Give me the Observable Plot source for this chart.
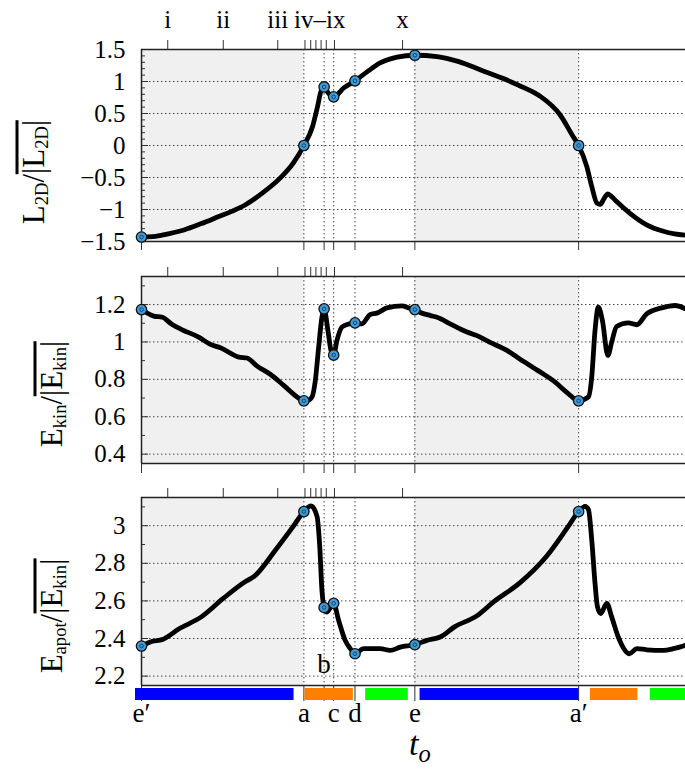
<!DOCTYPE html>
<html><head><meta charset="utf-8">
<script src="https://cdn.jsdelivr.net/npm/d3@7"></script>
<script src="https://cdn.jsdelivr.net/npm/@observablehq/plot@0.6"></script>
<style>
body{margin:0;background:#fff;}
#root{position:relative;width:685px;height:769px;overflow:hidden;font-family:"Liberation Serif","Times New Roman",Times,"DejaVu Serif",serif;background:#fff;}
.panel{position:absolute;left:0;}
.ylab{position:absolute;transform:translate(-50%,-50%) rotate(-90deg);font-size:31px;white-space:nowrap;line-height:1;color:#000;}
.ylab sub{font-size:60%;vertical-align:-0.25em;line-height:0;}
.ov{position:relative;}
.ov::before{content:"";position:absolute;left:0;right:0;top:0;height:2.5px;background:#000;}
.xlab{position:absolute;left:409px;top:727px;font-style:italic;font-size:34px;line-height:34px;color:#000;}
.xlab sub{font-size:72%;vertical-align:-0.3em;line-height:0;}
</style></head>
<body>
<div id="root">
  <div id="p1" class="panel" style="top:0px"></div>
  <div id="p2" class="panel" style="top:255px"></div>
  <div id="p3" class="panel" style="top:475px"></div>
  <div class="ylab" style="left:33px;top:172px">L<sub>2D</sub>/<span class="ov">|L<sub>2D</sub>|</span></div>
  <div class="ylab" style="left:51px;top:394px">E<sub>kin</sub>/<span class="ov">|E<sub>kin</sub>|</span></div>
  <div class="ylab" style="left:51px;top:616px">E<sub>apot</sub>/<span class="ov">|E<sub>kin</sub>|</span></div>
  <div class="xlab">t<sub>o</sub></div>
</div>
<script>
// ---------- data ----------
const eventT = [0, 0.594, 0.668, 0.703, 0.781, 1.0, 1.599];
const eventNames = ["e′", "a", "b", "c", "d", "e", "a′"];
const romanTickT = [0.096, 0.299, 0.4985, 0.598, 0.619, 0.638, 0.657, 0.676, 0.706, 0.955];
const romanLabelT = [0.096, 0.299, 0.4985, 0.652, 0.955];
const romanLabels = ["i", "ii", "iii", "iv–ix", "x"];
const greyStart = [0, 1.0];
const greyEnd = [0.594, 1.599];
const phaseStart = [-0.022, 0.598, 0.82, 1.019, 1.642, 1.861];
const phaseEnd = [0.558, 0.775, 0.976, 1.600, 1.816, 2.0];
const phaseName = ["blue", "orange", "green", "blue", "orange", "green"];
const phaseColors = {blue: "#0000ff", orange: "#ff8000", green: "#00ff00"};

const tL2D = [0, 0.04, 0.075, 0.155, 0.219, 0.283, 0.33, 0.379, 0.443, 0.507, 0.555, 0.594, 0.626, 0.644, 0.656, 0.668, 0.68, 0.692, 0.703, 0.74, 0.781, 0.825, 0.873, 0.935, 1.0, 1.081, 1.161, 1.241, 1.321, 1.401, 1.458, 1.531, 1.576, 1.599, 1.629, 1.647, 1.666, 1.678, 1.692, 1.706, 1.72, 1.738, 1.787, 1.848, 1.909, 1.95, 1.99];
const vL2D = [-1.43, -1.425, -1.40, -1.32, -1.22, -1.11, -1.03, -0.93, -0.74, -0.51, -0.275, 0, 0.30, 0.61, 0.84, 0.915, 0.84, 0.78, 0.76, 0.90, 1.01, 1.15, 1.29, 1.38, 1.41, 1.39, 1.31, 1.18, 1.05, 0.90, 0.77, 0.48, 0.16, 0, -0.33, -0.64, -0.90, -0.92, -0.83, -0.755, -0.80, -0.875, -1.06, -1.24, -1.34, -1.38, -1.40];

const tEkin = [0, 0.045, 0.076, 0.112, 0.149, 0.209, 0.252, 0.289, 0.356, 0.386, 0.423, 0.471, 0.52, 0.569, 0.594, 0.612, 0.624, 0.636, 0.648, 0.66, 0.668, 0.682, 0.693, 0.703, 0.715, 0.733, 0.752, 0.781, 0.806, 0.837, 0.861, 0.898, 0.953, 0.977, 1.0, 1.018, 1.057, 1.081, 1.129, 1.193, 1.225, 1.273, 1.337, 1.377, 1.449, 1.512, 1.561, 1.599, 1.635, 1.647, 1.659, 1.671, 1.686, 1.706, 1.72, 1.738, 1.781, 1.812, 1.848, 1.903, 1.952, 1.99];
const vEkin = [1.173, 1.138, 1.132, 1.093, 1.065, 1.026, 0.987, 0.969, 0.919, 0.914, 0.871, 0.827, 0.768, 0.706, 0.685, 0.69, 0.706, 0.795, 0.972, 1.132, 1.177, 1.061, 0.955, 0.930, 1.008, 1.079, 1.093, 1.102, 1.097, 1.147, 1.154, 1.182, 1.193, 1.182, 1.173, 1.159, 1.141, 1.132, 1.097, 1.052, 1.035, 0.999, 0.955, 0.916, 0.848, 0.786, 0.724, 0.685, 0.706, 0.812, 1.061, 1.186, 1.115, 0.928, 0.999, 1.083, 1.102, 1.092, 1.15, 1.182, 1.195, 1.177];

const tEapot = [0, 0.04, 0.075, 0.139, 0.219, 0.299, 0.379, 0.411, 0.491, 0.555, 0.594, 0.62, 0.642, 0.652, 0.66, 0.668, 0.677, 0.703, 0.721, 0.745, 0.764, 0.781, 0.812, 0.873, 0.91, 0.947, 1.0, 1.044, 1.093, 1.145, 1.225, 1.289, 1.385, 1.481, 1.561, 1.599, 1.623, 1.635, 1.647, 1.659, 1.668, 1.68, 1.702, 1.72, 1.744, 1.785, 1.812, 1.848, 1.909, 1.946, 1.99];
const vEapot = [2.36, 2.385, 2.394, 2.453, 2.515, 2.613, 2.702, 2.729, 2.872, 2.996, 3.075, 3.105, 3.05, 2.89, 2.658, 2.565, 2.54, 2.587, 2.497, 2.39, 2.346, 2.319, 2.346, 2.346, 2.337, 2.354, 2.367, 2.39, 2.408, 2.462, 2.519, 2.596, 2.697, 2.836, 2.996, 3.075, 3.103, 3.086, 2.925, 2.694, 2.568, 2.533, 2.587, 2.515, 2.408, 2.319, 2.346, 2.34, 2.337, 2.346, 2.364];

const markL2D = [-1.43, 0, 0.915, 0.76, 1.01, 1.41, 0];
const markEkin = [1.173, 0.685, 1.177, 0.93, 1.102, 1.173, 0.685];
const markEapot = [2.36, 3.075, 2.565, 2.587, 2.319, 2.367, 3.075];

const majL2D = [-1.5, -1, -0.5, 0, 0.5, 1, 1.5];
const minL2D = [-1.4, -1.3, -1.2, -1.1, -0.9, -0.8, -0.7, -0.6, -0.4, -0.3, -0.2, -0.1, 0.1, 0.2, 0.3, 0.4, 0.6, 0.7, 0.8, 0.9, 1.1, 1.2, 1.3, 1.4];
const majEkin = [0.4, 0.6, 0.8, 1, 1.2];
const minEkin = [0.5, 0.7, 0.9, 1.1, 1.3];
const majEapot = [2.2, 2.4, 2.6, 2.8, 3];
const minEapot = [2.3, 2.5, 2.7, 2.9, 3.1];

// ---------- build ----------
const FONT = "'Liberation Serif', 'Times New Roman', Times, 'DejaVu Serif', serif";
const W = 685, ML = 141, MR = 0;
const frameW = W - ML - MR;
const xDomain = [0, 1.99];
const zip = (t, v) => t.map((d, i) => ({t: d, v: v[i]}));
const grey = greyStart.map((s, i) => ({x1: s, x2: greyEnd[i]}));
const phases = phaseStart.map((s, i) => ({x1: s, x2: phaseEnd[i], c: phaseColors[phaseName[i]]}));
const fmt = d => (d < 0 ? "−" : "") + Math.abs(d);
const dotted = {stroke: "#444", strokeWidth: 1, strokeDasharray: "1.5,2.5"};

function panel({series, marks: mk, domain, majors, minors, height, marginTop, marginBottom, bottomTick, extra = []}) {
  const markers = eventT.map((t, i) => ({t, v: mk[i]}));
  return Plot.plot({
    width: W, height, marginLeft: ML, marginRight: MR, marginTop, marginBottom,
    style: {fontFamily: FONT, fontSize: "25px", background: "transparent", color: "#000", overflow: "visible"},
    x: {domain: xDomain, axis: null, label: null},
    y: {domain, axis: null, label: null},
    marks: [
      Plot.rect(grey, {x1: "x1", x2: "x2", fill: "#f0f0f0"}),
      Plot.ruleY(majors, dotted),
      Plot.ruleX(eventT.slice(1), dotted),
      Plot.tickY(majors, {y: d => d, stroke: "#333", insetRight: frameW - 7}),
      Plot.tickY(minors, {y: d => d, stroke: "#333", insetRight: frameW - 4}),
      Plot.axisX({anchor: "top", ticks: romanTickT, tickSize: 10, tickFormat: () => "", stroke: "#333", label: null}),
      Plot.axisX({anchor: "bottom", ticks: eventT, tickSize: bottomTick, tickFormat: () => "", stroke: "#333", label: null}),
      Plot.axisY({anchor: "left", ticks: majors, tickSize: 0, tickPadding: 16, tickFormat: fmt, label: null, fontFamily: FONT, fontSize: 25}),
      Plot.ruleY([domain[0], domain[1]], {stroke: "#222", strokeWidth: 1.5}),
      Plot.ruleX([0], {stroke: "#222", strokeWidth: 1.5}),
      ...extra,
      Plot.line(series, {x: "t", y: "v", stroke: "#000", strokeWidth: 4.8, curve: "monotone-x", strokeLinejoin: "round"}),
      Plot.dot(markers, {x: "t", y: "v", r: 5.2, fill: "#3f9ad8", stroke: "#111", strokeWidth: 1.3}),
      Plot.dot(markers, {x: "t", y: "v", r: 1.8, fill: "none", stroke: "#173a57", strokeWidth: 0.9})
    ]
  });
}

const p1 = panel({
  series: zip(tL2D, vL2D), marks: markL2D, domain: [-1.5, 1.5], majors: majL2D, minors: minL2D,
  height: 255, marginTop: 49, marginBottom: 14, bottomTick: 9,
  extra: [
    Plot.text(romanLabelT.map((t, i) => ({t, label: romanLabels[i]})),
      {x: "t", text: "label", frameAnchor: "top", dy: -22, lineAnchor: "bottom", fontSize: 25, fontFamily: FONT})
  ]
});
const p2 = panel({
  series: zip(tEkin, vEkin), marks: markEkin, domain: [0.35, 1.35], majors: majEkin, minors: minEkin,
  height: 220, marginTop: 21, marginBottom: 12, bottomTick: 10
});
const bottomLabels = eventT.map((t, i) => ({t, label: eventNames[i]})).filter(d => d.label !== "b");
const bLabel = eventT.map((t, i) => ({t, label: eventNames[i]})).filter(d => d.label === "b");
const p3 = panel({
  series: zip(tEapot, vEapot), marks: markEapot, domain: [2.15, 3.15], majors: majEapot, minors: minEapot,
  height: 294, marginTop: 22, marginBottom: 84, bottomTick: 16,
  extra: [
    Plot.rect(phases, {x1: "x1", x2: "x2", y1: 2.15, y2: 2.15, insetTop: 3, insetBottom: -15, fill: "c"}),
    Plot.text(bottomLabels, {x: "t", text: "label", frameAnchor: "bottom", dy: 36, lineAnchor: "bottom", fontSize: 27, fontFamily: FONT}),
    Plot.text(bLabel, {x: "t", text: "label", frameAnchor: "bottom", dy: -13, lineAnchor: "bottom", fontSize: 27, fontFamily: FONT})
  ]
});
document.getElementById("p1").appendChild(p1);
document.getElementById("p2").appendChild(p2);
document.getElementById("p3").appendChild(p3);
</script>
</body></html>
